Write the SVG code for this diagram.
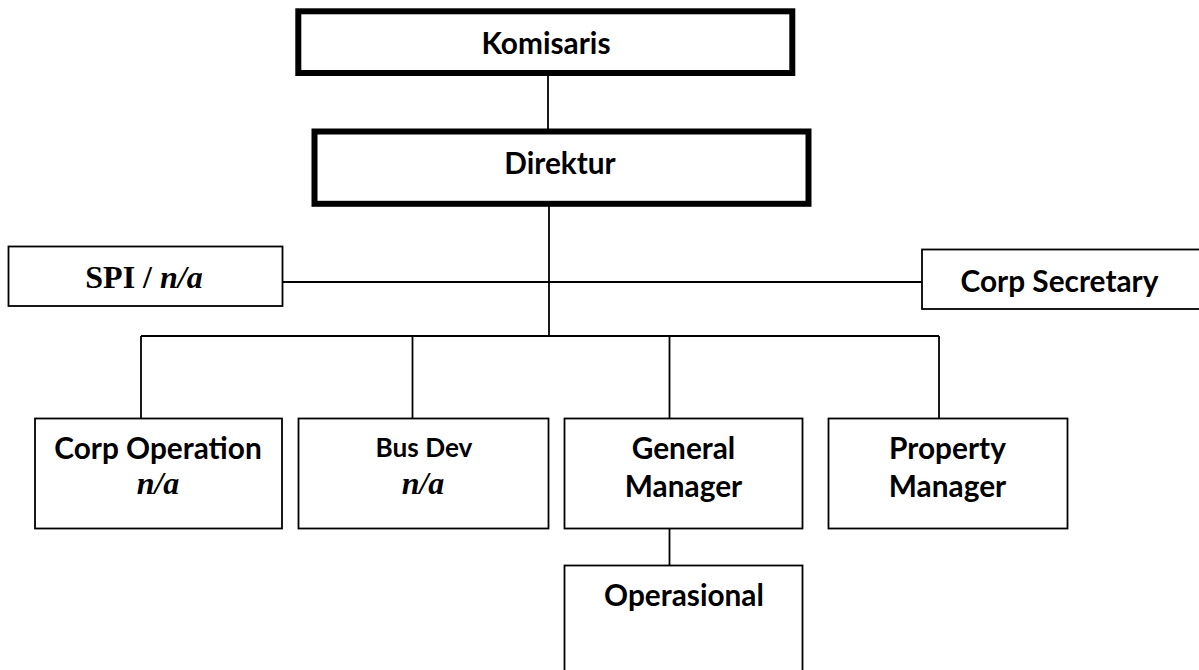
<svg xmlns="http://www.w3.org/2000/svg" width="1199" height="670" viewBox="0 0 1199 670">
<style>
.thick{fill:#fff;stroke:#000;stroke-width:6}
.box{fill:#fff;stroke:#000;stroke-width:1.8}
.ln{stroke:#000;stroke-width:1.8;fill:none}
.t{font-family:Lato,"Open Sans","Liberation Sans",sans-serif;font-weight:bold;font-size:29.8px;text-anchor:middle;fill:#000}
.t.sm{font-size:26.2px}
.s{font-family:"Liberation Serif","Times New Roman",serif;font-weight:bold;font-size:32px;text-anchor:middle;fill:#000}
.i{font-style:italic}
</style>
<rect width="1199" height="670" fill="#fff"/>
<g id="connectors">
<line class="ln" x1="548" y1="73" x2="548" y2="131"/>
<line class="ln" x1="549" y1="204" x2="549" y2="336"/>
<line class="ln" x1="283" y1="282" x2="582" y2="282"/>
<line class="ln" x1="549" y1="282" x2="922" y2="282"/>
<line class="ln" x1="141" y1="336" x2="939" y2="336"/>
<line class="ln" x1="141" y1="336" x2="141" y2="418.5"/>
<line class="ln" x1="412.5" y1="336" x2="412.5" y2="418.5"/>
<line class="ln" x1="669.5" y1="336" x2="669.5" y2="418.5"/>
<line class="ln" x1="939" y1="336" x2="939" y2="418.5"/>
<line class="ln" x1="669.5" y1="528.5" x2="669.5" y2="565.5"/>
</g>
<g id="komisaris">
<rect class="thick" x="298.3" y="11.3" width="494" height="61.7"/>
<text class="t" x="546" y="54">Komisaris</text>
</g>
<g id="direktur">
<rect class="thick" x="314.5" y="131.5" width="494" height="72.3"/>
<text class="t" x="560" y="174">Direktur</text>
</g>
<g id="spi">
<rect class="box" x="8.5" y="246.5" width="274" height="59.5"/>
<text class="s" x="144" y="288">SPI / <tspan class="i">n/a</tspan></text>
</g>
<g id="corp-secretary">
<rect class="box" x="922" y="249.5" width="290" height="59.5"/>
<text class="t" x="1059.5" y="292">Corp Secretary</text>
</g>
<g id="corp-operation">
<rect class="box" x="35" y="418.5" width="247" height="110"/>
<text class="t" x="158" y="459">Corp Operation</text>
<text class="s i" x="158" y="494">n/a</text>
</g>
<g id="bus-dev">
<rect class="box" x="298.5" y="418.5" width="250" height="110"/>
<text class="t sm" x="424" y="457">Bus Dev</text>
<text class="s i" x="423" y="494">n/a</text>
</g>
<g id="general-manager">
<rect class="box" x="564.5" y="418.5" width="238" height="110"/>
<text class="t" x="683.5" y="459">General</text>
<text class="t" x="683.5" y="497">Manager</text>
</g>
<g id="property-manager">
<rect class="box" x="828.5" y="418.5" width="239" height="110"/>
<text class="t" x="947.5" y="459">Property</text>
<text class="t" x="947.5" y="497">Manager</text>
</g>
<g id="operasional">
<rect class="box" x="564.5" y="565.5" width="238" height="120"/>
<text class="t" x="684" y="606">Operasional</text>
</g>
</svg>
